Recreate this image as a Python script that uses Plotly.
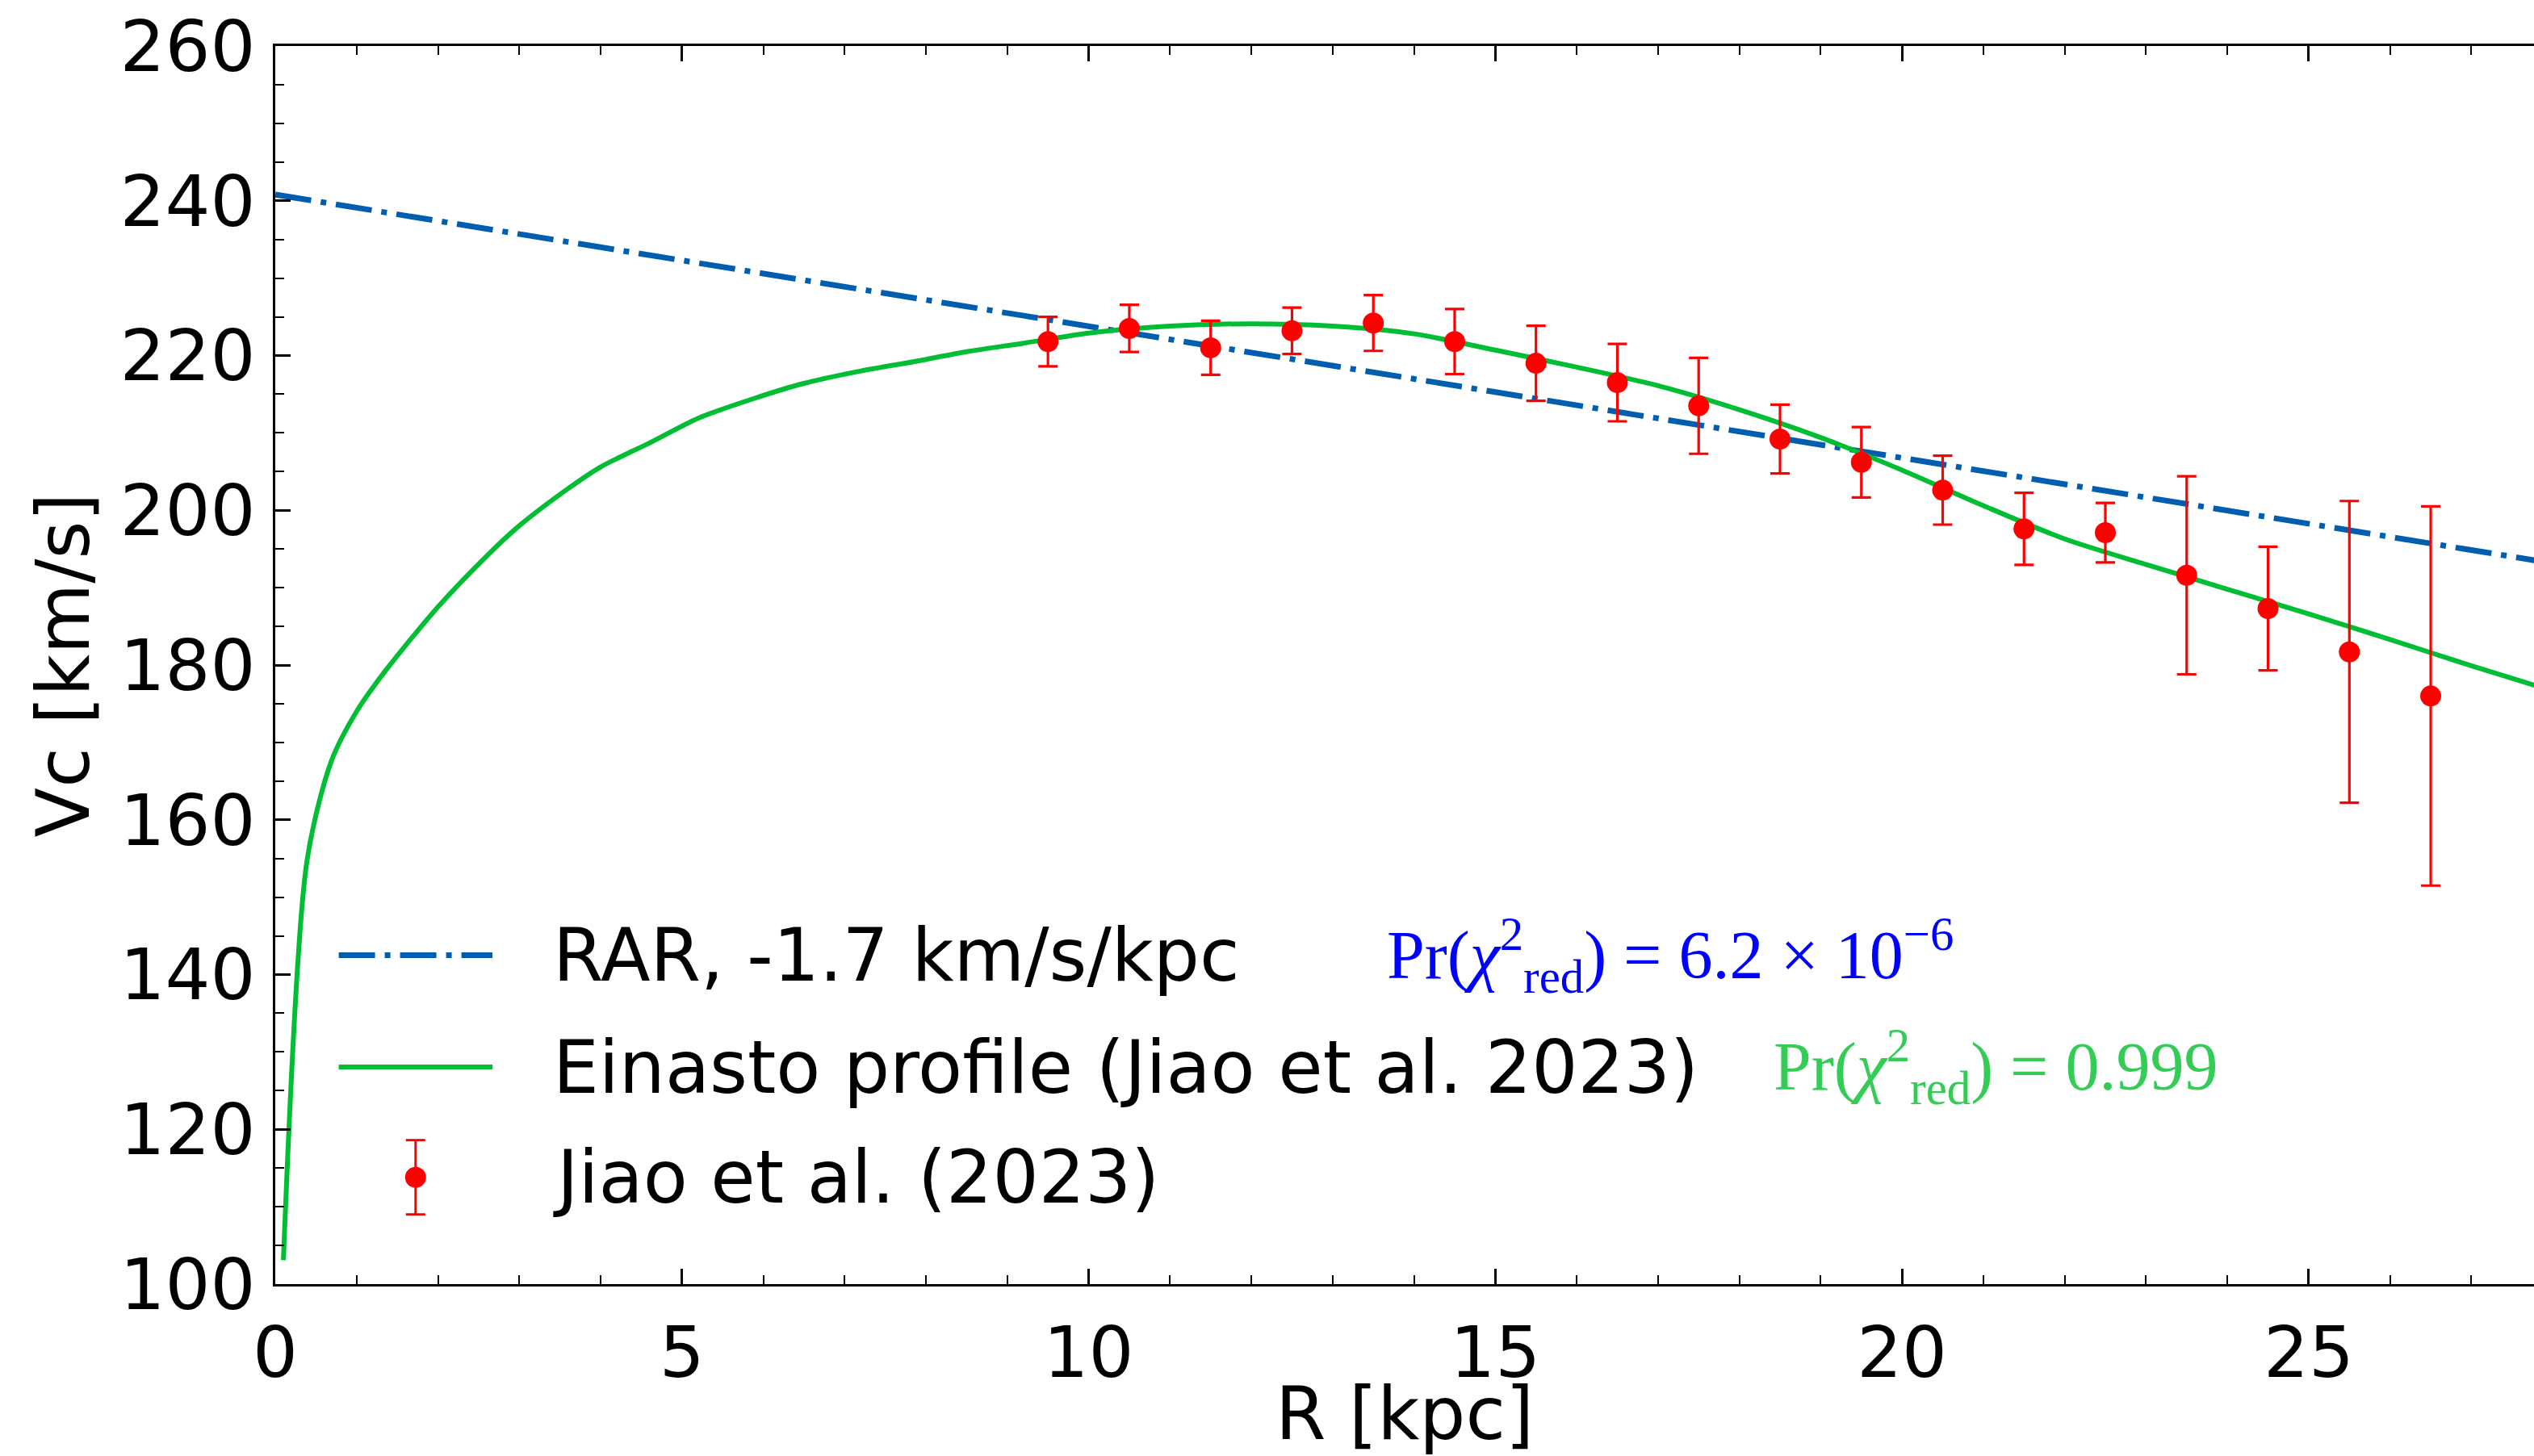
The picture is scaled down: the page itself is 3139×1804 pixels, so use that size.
import plotly.graph_objects as go

# ---------------- data ----------------
R_data = [9.5, 10.5, 11.5, 12.5, 13.5, 14.5, 15.5, 16.5, 17.5,
          18.5, 19.5, 20.5, 21.5, 22.5, 23.5, 24.5, 25.5, 26.5]
V_data = [221.8, 223.5, 221.0, 223.2, 224.2, 221.8, 219.0, 216.5, 213.5,
          209.2, 206.2, 202.6, 197.6, 197.1, 191.6, 187.3, 181.7, 176.0]
V_err = [3.2, 3.05, 3.5, 3.0, 3.6, 4.2, 4.85, 5.0, 6.2,
         4.45, 4.55, 4.45, 4.65, 3.85, 12.8, 8.0, 19.5, 24.5]

R_einasto = [0.10, 0.39, 0.69, 1.0, 1.35, 2.0, 2.6, 3.0, 3.6, 4.0, 4.6, 5.2,
             5.9, 6.5, 7.2, 7.9, 8.5, 9.2, 10.0, 11.0, 12.0, 13.0, 14.0,
             15.0, 16.0, 17.0, 18.0, 19.0, 20.0, 21.0, 22.0, 23.0, 24.0,
             25.0, 26.0, 27.0, 27.8]
V_einasto = [103.1, 154.7, 167.6, 174.0, 179.2, 187.5, 194.1, 198.0, 202.8,
             205.6, 208.7, 211.9, 214.5, 216.4, 218.0, 219.3, 220.5, 221.6,
             222.9, 223.8, 224.1, 223.8, 222.8, 220.7, 218.5, 216.1, 213.0,
             209.4, 205.2, 200.6, 196.3, 193.0, 189.8, 186.6, 183.3, 179.9,
             177.3]

R_rar = [0.0, 27.8]
V_rar = [240.8, 193.5]

x_ticks = [0, 5, 10, 15, 20, 25]
y_ticks = [100, 120, 140, 160, 180, 200, 220, 240, 260]

legend_labels = ["RAR, -1.7 km/s/kpc", "Einasto profile (Jiao et al. 2023)", "Jiao et al. (2023)"]
stat_labels = ["Pr(<i>χ</i><sup>2</sup><sub>red</sub>) = 6.2 × 10<sup>−6</sup>",
               "Pr(<i>χ</i><sup>2</sup><sub>red</sub>) = 0.999"]

# ---------------- styles ----------------
BLUE = "#005EB0"
GREEN = "#00BE33"
RED = "#FF0000"
DASHDOT = "45px,12px,7px,12px"
FONT = "DejaVu Sans"
SERIF = "Liberation Serif"

fig = go.Figure()

fig.add_trace(go.Scatter(x=R_rar, y=V_rar, mode="lines",
                         line=dict(color=BLUE, width=7, dash=DASHDOT),
                         name=legend_labels[0], showlegend=False))
fig.add_trace(go.Scatter(x=R_einasto, y=V_einasto, mode="lines",
                         line=dict(color=GREEN, width=6, shape="spline", smoothing=0.8),
                         name=legend_labels[1], showlegend=False))
fig.add_trace(go.Scatter(x=R_data, y=V_data, mode="markers",
                         marker=dict(color=RED, size=26),
                         error_y=dict(type="data", array=V_err, color=RED,
                                      thickness=3.2, width=12),
                         name=legend_labels[2], showlegend=False))

# ---------------- manual legend (layout styling) ----------------
leg_x0, leg_x1 = 0.78, 2.67
leg_text_x = 3.39
row_y = [142.5, 128.05, 113.8]
xc = (leg_x0 + leg_x1) / 2
shapes = [
    dict(type="line", xref="x", yref="y", x0=leg_x0, x1=leg_x1, y0=row_y[0], y1=row_y[0],
         line=dict(color=BLUE, width=7, dash=DASHDOT)),
    dict(type="line", xref="x", yref="y", x0=leg_x0, x1=leg_x1, y0=row_y[1], y1=row_y[1],
         line=dict(color=GREEN, width=6)),
    dict(type="line", xref="x", yref="y", x0=xc, x1=xc,
         y0=row_y[2] - 4.8, y1=row_y[2] + 4.8, line=dict(color=RED, width=3)),
]
for yy in (row_y[2] - 4.8, row_y[2] + 4.8):
    shapes.append(dict(type="line", xref="x", yref="y", xsizemode="pixel", xanchor=xc,
                       x0=-12, x1=12, y0=yy, y1=yy, line=dict(color=RED, width=3)))
shapes.append(dict(type="circle", xref="x", yref="y", xsizemode="pixel", ysizemode="pixel",
                   xanchor=xc, yanchor=row_y[2], x0=-13, x1=13, y0=-13, y1=13,
                   fillcolor=RED, line=dict(color=RED, width=0)))

annotations = []
for lab, yy in zip(legend_labels, row_y):
    annotations.append(dict(x=leg_text_x, y=yy, xref="x", yref="y", text=lab,
                            showarrow=False, xanchor="left", yanchor="middle",
                            font=dict(family=FONT, size=90, color="black")))
annotations.append(dict(x=13.65, y=row_y[0], xref="x", yref="y", text=stat_labels[0],
                        showarrow=False, xanchor="left", yanchor="middle",
                        font=dict(family=SERIF, size=84, color="#0000FF")))
annotations.append(dict(x=18.4, y=row_y[1], xref="x", yref="y", text=stat_labels[1],
                        showarrow=False, xanchor="left", yanchor="middle",
                        font=dict(family=SERIF, size=84, color="#33CC55")))

fig.update_layout(
    width=3139, height=1804,
    margin=dict(l=341, r=0, t=57, b=207, pad=0),
    plot_bgcolor="white", paper_bgcolor="white",
    font=dict(family=FONT, size=90, color="black"),
    shapes=shapes, annotations=annotations,
    showlegend=False,
)
fig.update_xaxes(
    range=[0, 27.77], tickvals=x_ticks, ticktext=[str(v) for v in x_ticks],
    ticks="inside", ticklen=19, tickwidth=2.5, tickcolor="black",
    minor=dict(dtick=1, ticks="inside", ticklen=11, tickwidth=2, tickcolor="black", showgrid=False),
    showline=True, linecolor="black", linewidth=3, mirror="ticks",
    showgrid=False, zeroline=False,
    tickfont=dict(size=88), ticklabelstandoff=6,
    title=dict(text="R [kpc]", font=dict(size=90), standoff=14),
)
fig.update_yaxes(
    range=[100, 260], tickvals=y_ticks, ticktext=[str(v) for v in y_ticks],
    ticks="inside", ticklen=19, tickwidth=2.5, tickcolor="black",
    minor=dict(dtick=5, ticks="inside", ticklen=11, tickwidth=2, tickcolor="black", showgrid=False),
    showline=True, linecolor="black", linewidth=3, mirror=False,
    showgrid=False, zeroline=False,
    tickfont=dict(size=88), ticklabelstandoff=4,
    title=dict(text="Vc [km/s]", font=dict(size=90), standoff=8),
)

fig.write_html("out.html")
